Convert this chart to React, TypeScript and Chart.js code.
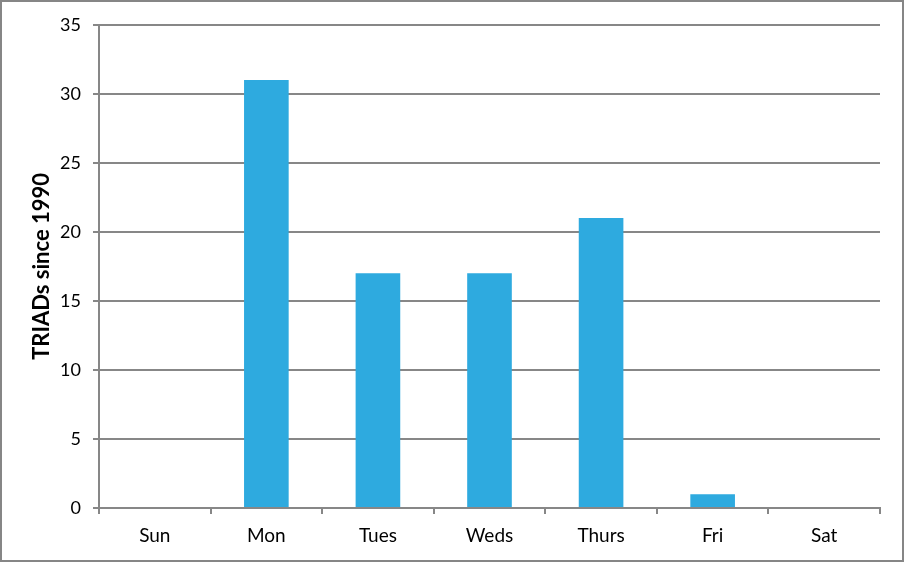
import React, { useEffect, useRef } from "react";
import { Chart, registerables } from "chart.js";
Chart.register(...registerables);

const categories = ["Sun", "Mon", "Tues", "Weds", "Thurs", "Fri", "Sat"];
const triads = [0, 31, 17, 17, 21, 1, 0];
const yTitle = "TRIADs since 1990";

export default function App() {
  const ref = useRef<HTMLCanvasElement>(null);
  useEffect(() => {
    document.body.style.margin = "0";
    const grey = "#878787";
    const chart = new Chart(ref.current!, {
      type: "bar",
      data: {
        labels: categories,
        datasets: [
          {
            data: triads,
            backgroundColor: "#2EAADF",
            borderWidth: 0,
            barPercentage: 0.4,
            categoryPercentage: 1,
          },
        ],
      },
      options: {
        animation: false,
        responsive: false,
        layout: { padding: { top: 22, right: 22, left: 0, bottom: 0 } },
        plugins: { legend: { display: false }, tooltip: { enabled: false } },
        scales: {
          x: {
            offset: true,
            grid: {
              offset: true,
              drawOnChartArea: false,
              drawTicks: true,
              tickLength: 6,
              color: grey,
              lineWidth: 2,
            },
            border: { color: grey, width: 2 },
            ticks: {
              color: "#000",
              font: { family: "Lato", size: 19 },
              padding: 10,
            },
            afterFit: (s: any) => {
              s.height = 52;
            },
          },
          y: {
            min: 0,
            max: 35,
            ticks: {
              stepSize: 5,
              color: "#000",
              font: { family: "Lato", size: 18 },
              padding: 12,
            },
            grid: { color: grey, lineWidth: 2, tickLength: 6 },
            border: { color: grey, width: 2 },
            title: {
              display: true,
              text: yTitle,
              color: "#000",
              font: { family: "Lato", size: 22, weight: "bold" },
              padding: { top: 27, bottom: 0 },
            },
            afterFit: (s: any) => {
              s.width = 97;
            },
          },
        },
      },
    });
    return () => chart.destroy();
  }, []);
  return (
    <div
      style={{
        width: 904,
        height: 562,
        boxSizing: "border-box",
        border: "2px solid #868686",
        background: "#fff",
      }}
    >
      <canvas ref={ref} width={900} height={558} style={{ display: "block" }} />
    </div>
  );
}
